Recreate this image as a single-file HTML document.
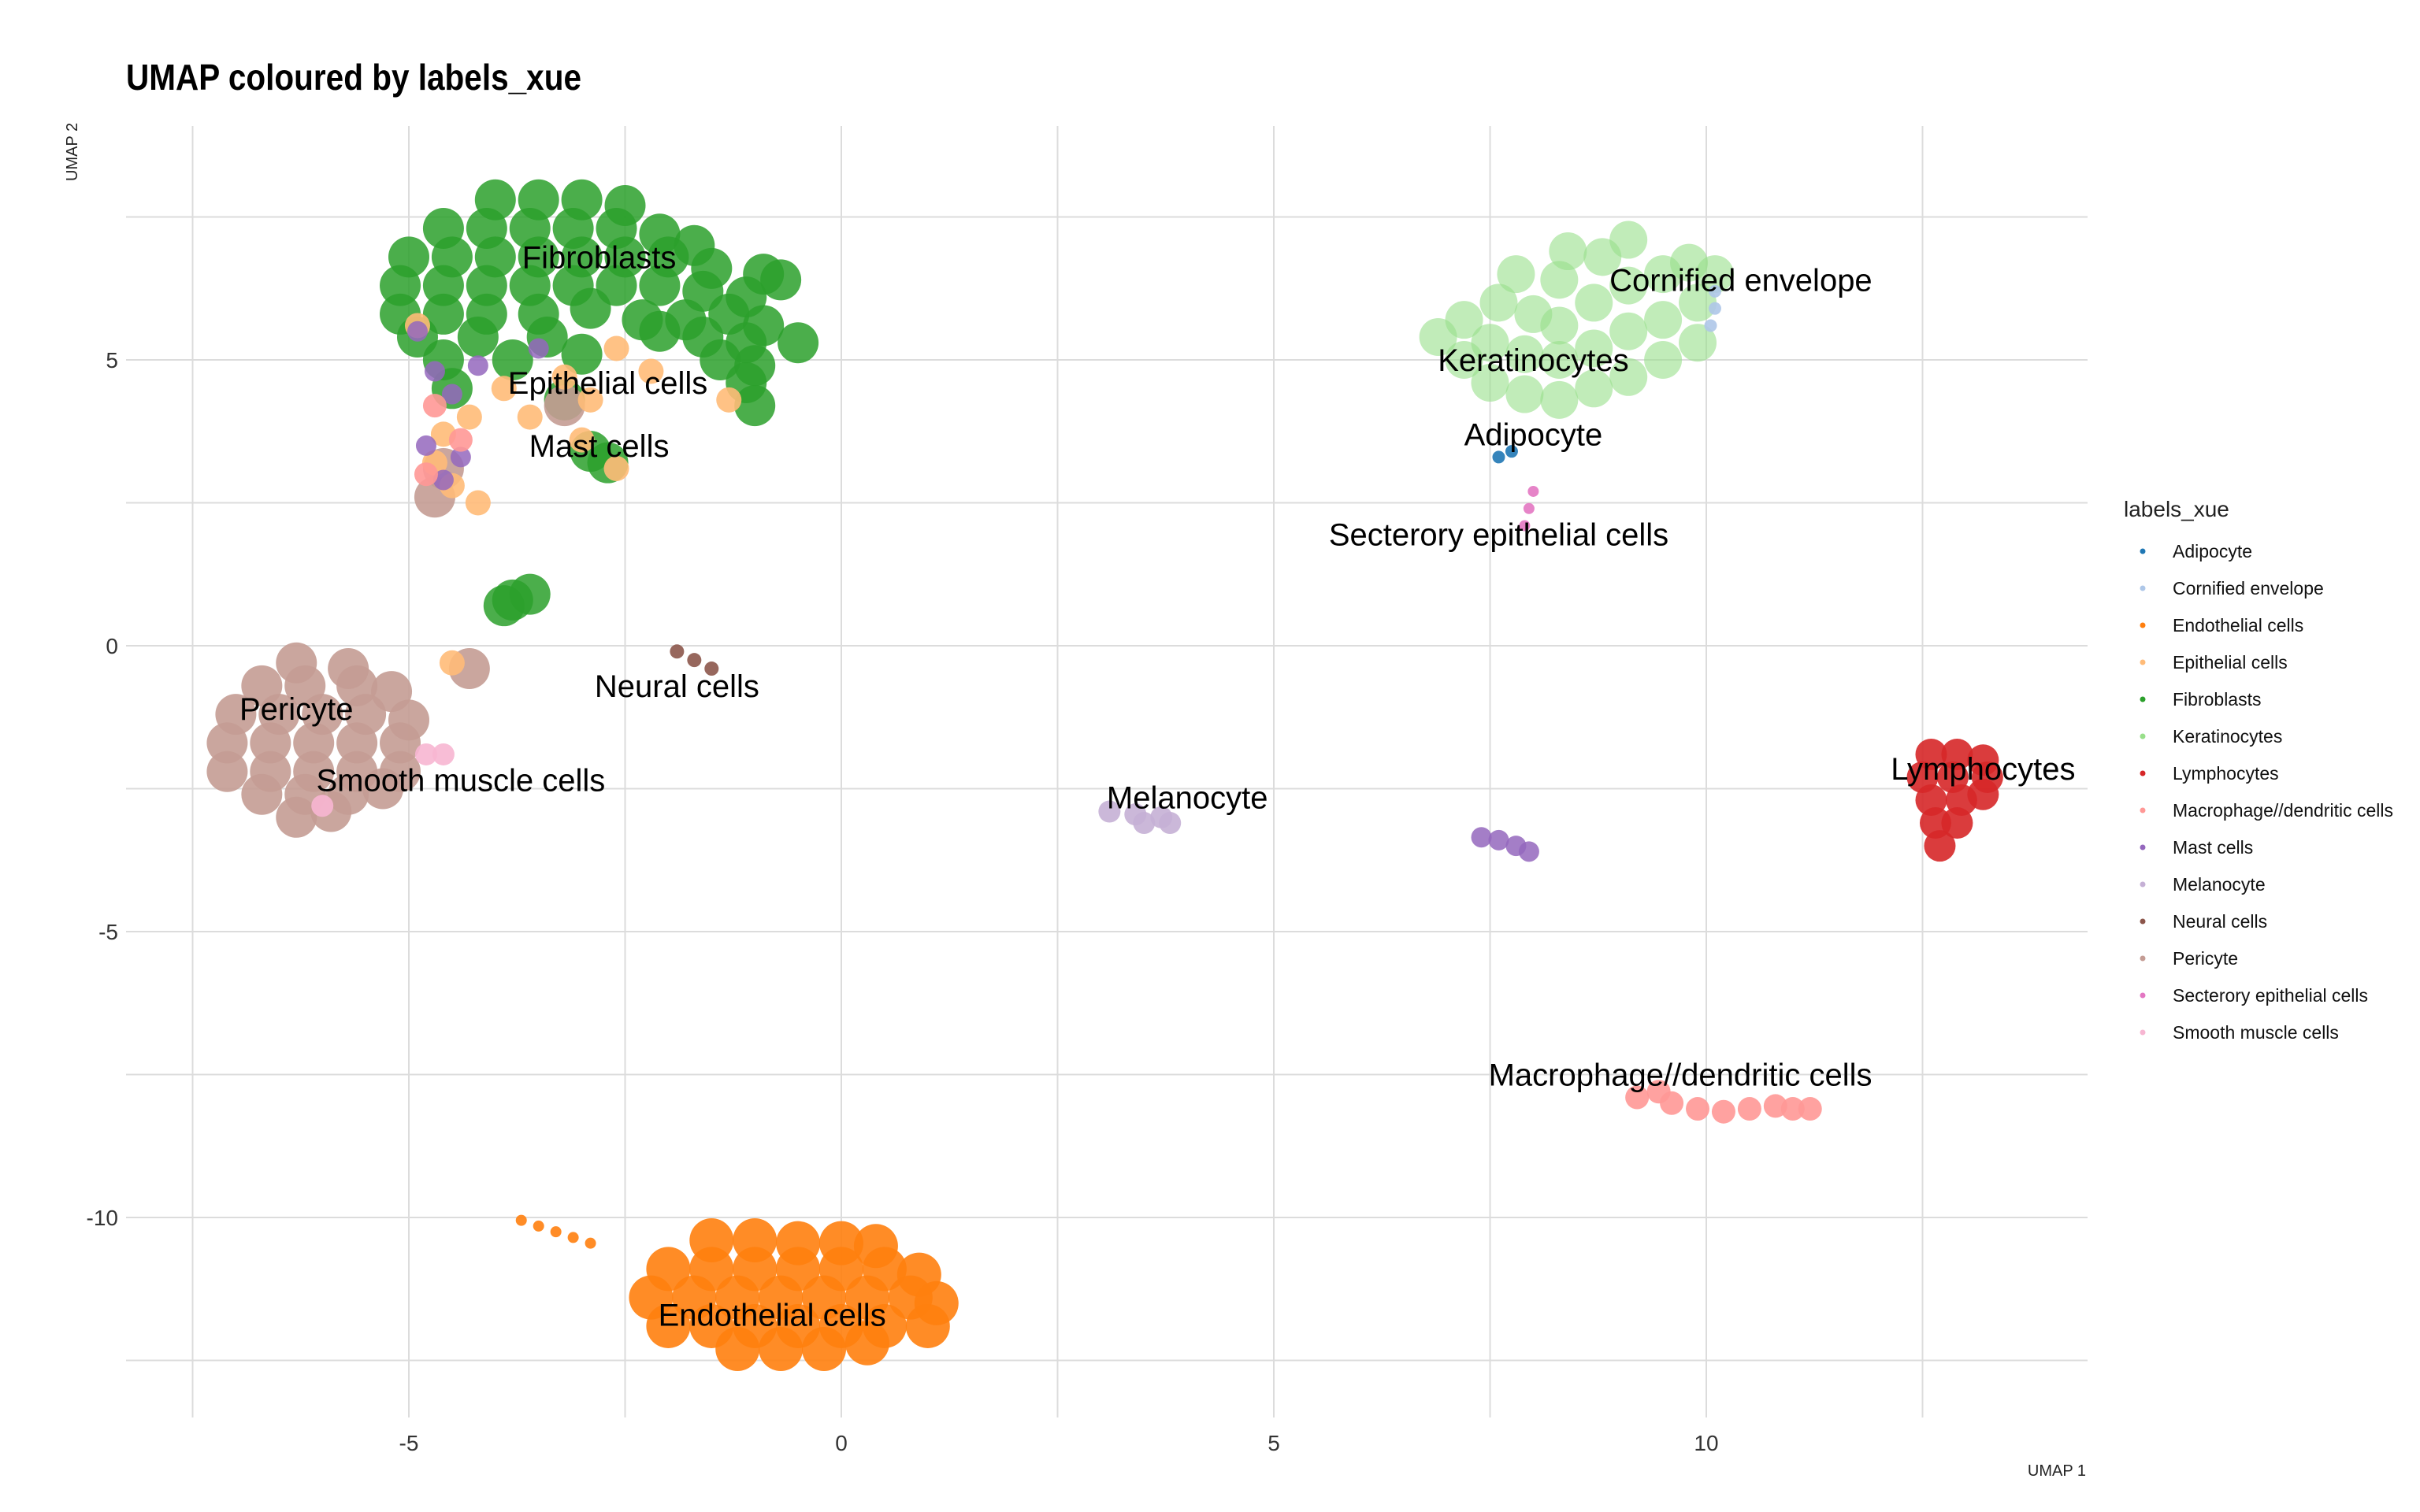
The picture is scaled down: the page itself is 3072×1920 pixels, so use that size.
<!DOCTYPE html>
<html><head><meta charset="utf-8">
<style>
html,body{margin:0;padding:0;background:#fff;}
svg{display:block;}
text{font-family:"Liberation Sans",sans-serif;}
</style></head>
<body>
<svg id="chart" width="3072" height="1920" viewBox="0 0 3072 1920" xmlns="http://www.w3.org/2000/svg">
<text x="160" y="114" font-size="46" font-weight="bold" textLength="578" lengthAdjust="spacingAndGlyphs" fill="#000">UMAP coloured by labels_xue</text>
<g id="grid"></g>
<g id="points"></g>
<g id="labels"></g>
<g id="axes"></g>
<text x="98" y="230" font-size="20" fill="#222" transform="rotate(-90 98 230)">UMAP 2</text>
<text x="2648" y="1874" font-size="20" fill="#222" text-anchor="end">UMAP 1</text>
<g id="legend"></g>
</svg>
<script>
const xTicks = [-5, 0, 5, 10];
const yTicks = [5, 0, -5, -10];
const xMinor = [-7.5, -2.5, 2.5, 7.5, 12.5];
const yMinor = [7.5, 2.5, -2.5, -7.5, -12.5];
const categories = ["Adipocyte","Cornified envelope","Endothelial cells","Epithelial cells","Fibroblasts","Keratinocytes","Lymphocytes","Macrophage//dendritic cells","Mast cells","Melanocyte","Neural cells","Pericyte","Secterory epithelial cells","Smooth muscle cells"];
const colors = ["#1f77b4","#aec7e8","#ff7f0e","#ffbb78","#2ca02c","#98df8a","#d62728","#ff9896","#9467bd","#c5b0d5","#8c564b","#c49c94","#e377c2","#f7b6d2"];

const fibroblastsPts = [[-4,7.8],[-3.5,7.8],[-3,7.8],[-2.5,7.7],
[-4.6,7.3],[-4.1,7.3],[-3.6,7.3],[-3.1,7.3],[-2.6,7.3],[-2.1,7.2],[-1.7,7.0],
[-5,6.8],[-4.5,6.8],[-4,6.8],[-3.5,6.8],[-3,6.8],[-2.5,6.8],[-2,6.8],[-1.5,6.6],[-0.9,6.5],
[-5.1,6.3],[-4.6,6.3],[-4.1,6.3],[-3.6,6.3],[-3.1,6.3],[-2.6,6.3],[-2.1,6.3],[-1.6,6.2],[-1.1,6.1],[-0.7,6.4],
[-5.1,5.8],[-4.6,5.8],[-4.1,5.8],[-3.5,5.8],[-2.9,5.9],[-2.3,5.7],[-1.8,5.7],[-1.3,5.8],[-0.9,5.6],
[-4.9,5.4],[-4.2,5.4],[-3.4,5.4],[-2.1,5.5],[-1.6,5.4],[-1.1,5.3],[-0.5,5.3],
[-4.6,5.0],[-3.8,5.0],[-3.0,5.1],[-1.4,5.0],[-1.0,4.9],[-4.5,4.5],[-3.2,4.3],[-1.1,4.6],[-1.0,4.2],
[-2.7,3.2],[-2.9,3.4],[-3.8,0.8],[-3.6,0.9],[-3.9,0.7]];
const epithelialPts = [[-4.7,3.2],[-4.5,2.8],[-4.3,4.0],[-3.9,4.5],[-3.2,4.7],[-2.6,5.2],[-2.2,4.8],[-4.6,3.7],[-3.0,3.6],[-1.3,4.3],[-2.6,3.1],[-4.9,5.6],[-4.2,2.5],[-3.6,4.0],[-2.9,4.3],[-4.5,-0.3]];
const mastPts = [[-4.8,3.5],[-4.5,4.4],[-4.9,5.5],[-4.6,2.9],[-4.2,4.9],[-3.5,5.2],[-4.4,3.3],[-4.7,4.8],
[7.4,-3.35],[7.6,-3.4],[7.8,-3.5],[7.95,-3.6]];
const macrophagePts = [[-4.7,4.2],[-4.4,3.6],[-4.8,3.0],
[9.2,-7.9],[9.45,-7.8],[9.6,-8.0],[9.9,-8.1],[10.2,-8.15],[10.5,-8.1],[10.8,-8.05],[11.0,-8.1],[11.2,-8.1]];
const pericytePts = [[-4.6,3.1],[-4.7,2.6],[-3.2,4.2],[-4.3,-0.4],
[-6.3,-0.3],[-5.7,-0.4],[-6.7,-0.7],[-6.2,-0.7],[-5.6,-0.7],[-5.2,-0.8],
[-7.0,-1.2],[-6.5,-1.2],[-6.0,-1.2],[-5.5,-1.2],[-5.0,-1.3],
[-7.1,-1.7],[-6.6,-1.7],[-6.1,-1.7],[-5.6,-1.7],[-5.1,-1.7],
[-7.1,-2.2],[-6.6,-2.2],[-6.1,-2.2],[-5.6,-2.2],[-5.1,-2.2],
[-6.7,-2.6],[-6.2,-2.6],[-5.7,-2.6],[-5.3,-2.5],[-6.3,-3.0],[-5.9,-2.9]];
const smoothPts = [[-4.6,-1.9],[-4.8,-1.9],[-6.0,-2.8]];
const neuralPts = [[-1.9,-0.1],[-1.7,-0.25],[-1.5,-0.4]];
const endothelialPts = [[-1.5,-10.4],[-1.0,-10.4],[-0.5,-10.45],[0,-10.45],[0.4,-10.5],
[-2.0,-10.9],[-1.5,-10.9],[-1.0,-10.9],[-0.5,-10.9],[0,-10.9],[0.5,-10.9],[0.9,-11.0],
[-2.2,-11.4],[-1.7,-11.4],[-1.2,-11.4],[-0.7,-11.4],[-0.2,-11.4],[0.3,-11.4],[0.8,-11.4],[1.1,-11.5],
[-2.0,-11.9],[-1.5,-11.9],[-1.0,-11.9],[-0.5,-11.9],[0,-11.9],[0.5,-11.9],[1.0,-11.9],
[-1.2,-12.3],[-0.7,-12.3],[-0.2,-12.3],[0.3,-12.2]];
const endothelialStreak = [[-3.7,-10.05],[-3.5,-10.15],[-3.3,-10.25],[-3.1,-10.35],[-2.9,-10.45]];
const keratinocytesPts = [[6.9,5.4],[7.2,5.0],[7.2,5.7],[7.5,4.6],[7.5,5.3],[7.6,6.0],[7.8,6.5],[7.9,4.4],[7.9,5.1],[8.0,5.8],
[8.3,4.3],[8.3,5.0],[8.3,5.6],[8.3,6.4],[8.4,6.9],[8.7,4.5],[8.7,5.2],[8.7,6.0],[8.8,6.8],[9.1,4.7],[9.1,5.5],[9.1,6.3],[9.1,7.1],
[9.5,5.0],[9.5,5.7],[9.5,6.5],[9.9,5.3],[9.9,6.0],[10.1,6.5],[9.8,6.7]];
const cornifiedPts = [[10.1,5.9],[10.1,6.2],[10.05,5.6]];
const adipocytePts = [[7.6,3.3],[7.75,3.4]];
const secretoryPts = [[8.0,2.7],[7.95,2.4],[7.9,2.1]];
const lymphocytesPts = [[12.6,-1.9],[12.9,-1.9],[13.2,-2.0],[12.5,-2.3],[12.85,-2.3],[13.25,-2.3],[12.6,-2.7],[12.95,-2.7],[13.2,-2.6],[12.65,-3.1],[12.9,-3.1],[12.7,-3.5]];
const melanocytePts = [[3.1,-2.9],[3.4,-2.95],[3.7,-3.0],[3.8,-3.1],[3.5,-3.1]];

const labelNames = ["Fibroblasts","Epithelial cells","Mast cells","Cornified envelope","Keratinocytes","Adipocyte","Secterory epithelial cells","Neural cells","Pericyte","Smooth muscle cells","Melanocyte","Lymphocytes","Macrophage//dendritic cells","Endothelial cells"];
const labelX = [-2.8,-2.7,-2.8,10.4,8.0,8.0,7.6,-1.9,-6.3,-4.4,4.0,13.2,9.7,-0.8];
const labelY = [6.8,4.6,3.5,6.4,5.0,3.7,1.95,-0.7,-1.1,-2.35,-2.65,-2.15,-7.5,-11.7];

const NS = "http://www.w3.org/2000/svg";
const X = u => 1068 + u * 109.8;
const Y = u => 820 - u * 72.6;
function mk(tag, attrs, parent){const e=document.createElementNS(NS,tag);for(const k in attrs)e.setAttribute(k,attrs[k]);parent.appendChild(e);return e;}

const grid = document.getElementById('grid');
xMinor.concat(xTicks).forEach(v=>{
  const l = mk('line',{x1:X(v),x2:X(v),y1:160,y2:1800,stroke:'#dcdcdc','stroke-width':2},grid);
  
  
});
yMinor.concat(yTicks).forEach(v=>{
  const l = mk('line',{x1:160,x2:2650,y1:Y(v),y2:Y(v),stroke:'#dcdcdc','stroke-width':2},grid);
  
  
});
const axes = document.getElementById('axes');
xTicks.forEach(v=>{
  const t = mk('text',{x:X(v),y:1842,'font-size':28,fill:'#333','text-anchor':'middle'},axes);
  t.textContent = v;
  
  
});
yTicks.forEach(v=>{
  const t = mk('text',{x:150,y:Y(v)+10,'font-size':28,fill:'#333','text-anchor':'end'},axes);
  t.textContent = v;
  
  
});

const pts = document.getElementById('points');
function draw(arr, ci, r, op){
  arr.forEach(p=>{
    const c = mk('circle',{cx:X(p[0]),cy:Y(p[1]),r:r,fill:colors[ci],'fill-opacity':op},pts);
    
    
  });
}
draw(keratinocytesPts,5,24,0.6);
draw(cornifiedPts,1,8,0.9);
draw(fibroblastsPts,4,26,0.85);
draw(pericytePts,11,26,0.9);
draw(epithelialPts,3,16,0.9);
draw(mastPts,8,13,0.85);
draw(macrophagePts,7,15,0.9);
draw(smoothPts,13,14,0.9);
draw(neuralPts,10,9,0.9);
draw(endothelialPts,2,28,0.9);
draw(endothelialStreak,2,7,0.9);
draw(adipocytePts,0,8,0.9);
draw(secretoryPts,12,7,0.9);
draw(lymphocytesPts,6,20,0.9);
draw(melanocytePts,9,14,0.9);

const lab = document.getElementById('labels');
labelNames.forEach((n,i)=>{
  const t = mk('text',{x:X(labelX[i]),y:Y(labelY[i])+14,'font-size':40,fill:'#000','text-anchor':'middle'},lab);
  t.textContent = n;
  
  
});

const leg = document.getElementById('legend');
const lt = mk('text',{x:2696,y:656,'font-size':28,fill:'#222'},leg);
lt.textContent = 'labels_xue';


categories.forEach((n,i)=>{
  const g = mk('g',{},leg);
  
  
  mk('circle',{cx:2720,cy:700+i*47,r:3.5,fill:colors[i]},g);
  const t = mk('text',{x:2758,y:708+i*47,'font-size':23,fill:'#111'},g);
  t.textContent = n;
});
</script>
</body></html>
